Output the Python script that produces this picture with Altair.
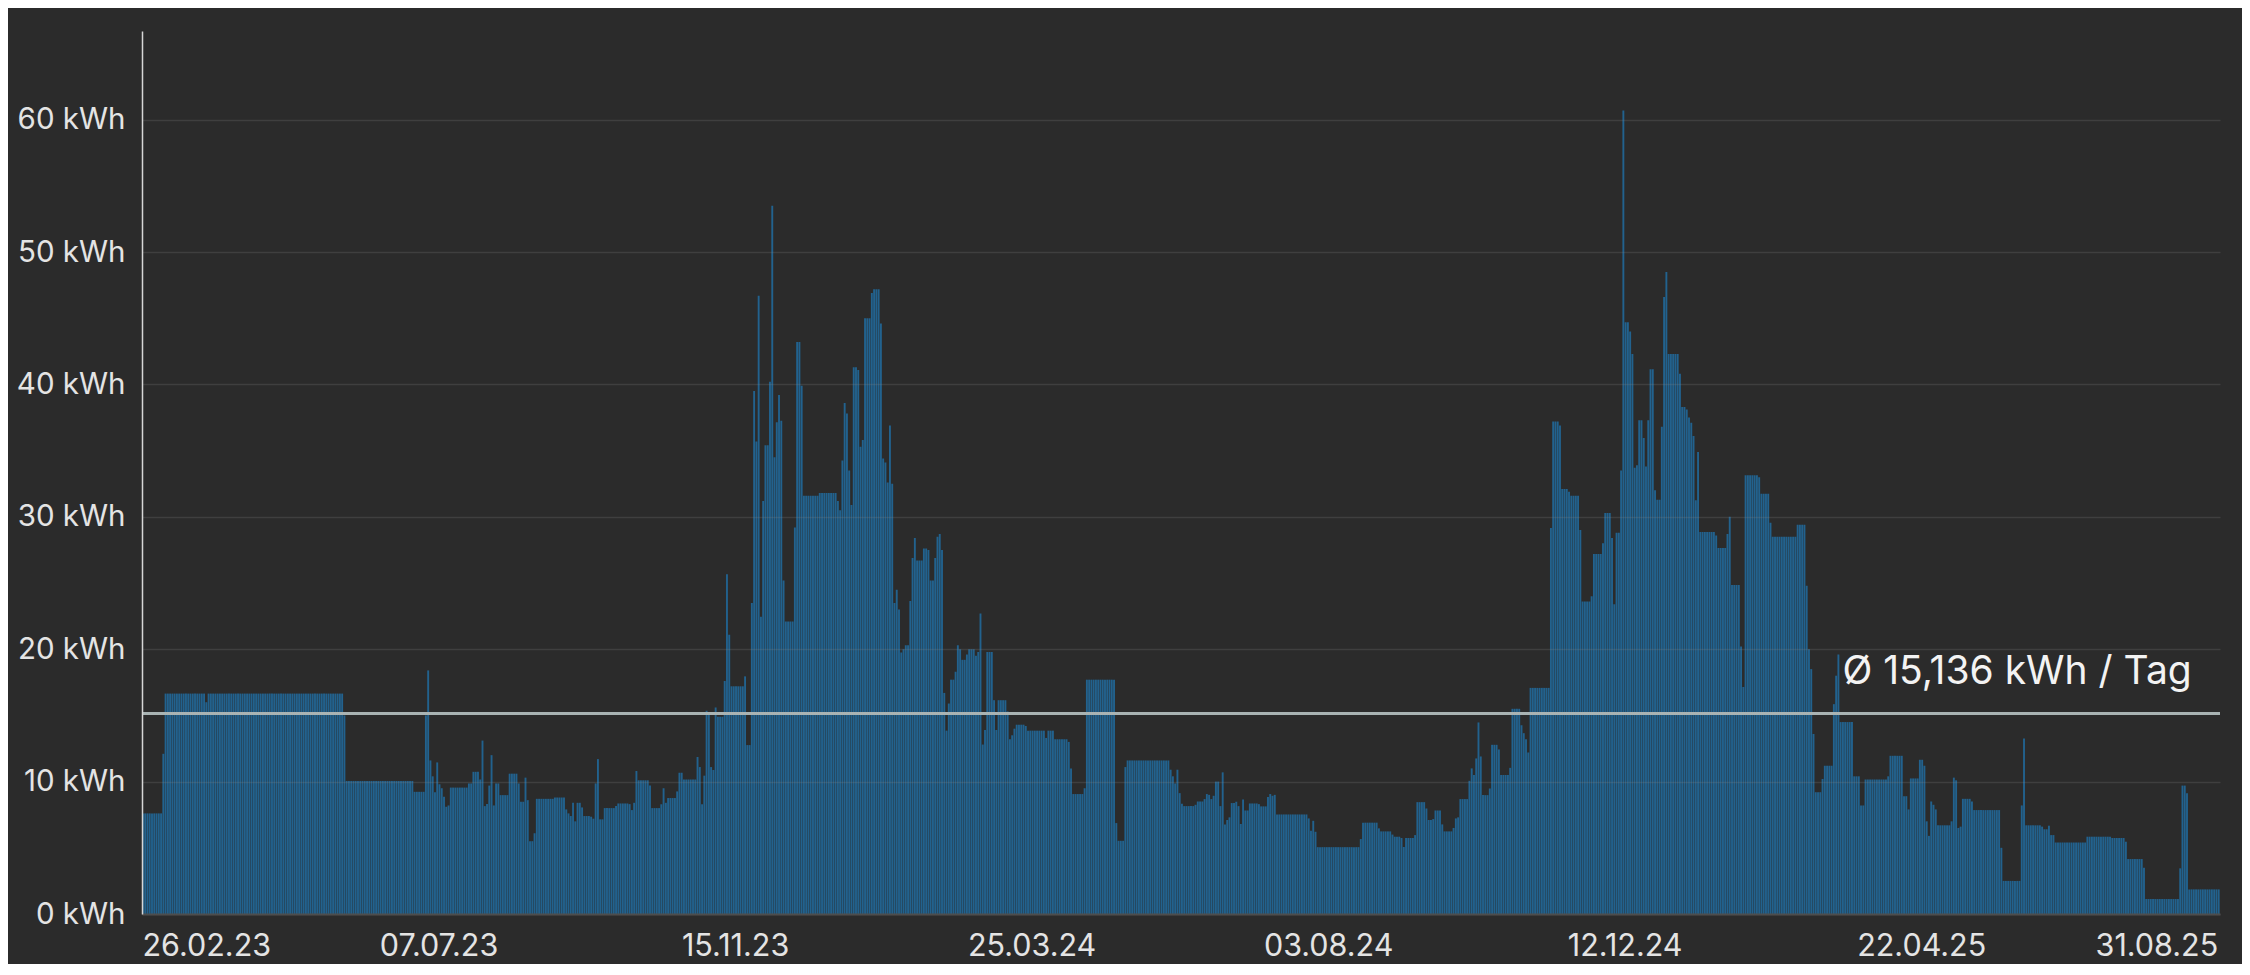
import altair as alt
import numpy as np
import pandas as pd

# ---- data (daily consumption, run-length encoded) ----
start_date = "2023-02-26"

run_values = [
    7.6, 12.1, 16.65, 16.0, 16.65, 15.0, 10.05, 9.23, 15.0, 18.4,
    11.6, 10.4, 9.2, 11.45, 9.8, 9.5, 8.85, 8.1, 8.2, 9.55,
    9.86, 10.74, 10.16, 13.1, 8.15, 8.3, 9.7, 12.0, 8.2, 9.86,
    8.98, 10.6, 9.86, 8.48, 10.3, 8.6, 5.5, 6.1, 8.7, 8.8,
    7.9, 7.6, 7.4, 8.4, 7.0, 8.4, 8.05, 7.4, 7.35, 7.2,
    9.86, 11.7, 7.15, 8.0, 8.15, 8.35, 8.3, 7.85, 8.4, 10.8,
    10.1, 9.7, 8.0, 8.29, 9.5, 8.4, 8.76, 9.26, 10.67, 10.16,
    11.86, 11.1, 8.29, 10.45, 15.35, 15.24, 11.1, 10.88, 15.6, 14.9,
    17.6, 25.66, 21.1, 17.2, 17.95, 12.76, 23.5, 39.5, 35.7, 46.7,
    22.45, 31.2, 35.4, 40.2, 53.5, 34.5, 37.15, 39.2, 37.26, 25.2,
    22.1, 29.2, 43.2, 39.9, 31.6, 31.8, 31.2, 30.5, 34.25, 38.6,
    37.8, 33.5, 30.9, 41.3, 41.1, 35.3, 35.8, 45.0, 46.9, 47.2,
    44.6, 34.4, 34.1, 32.6, 36.9, 32.5, 23.5, 24.5, 23.0, 19.75,
    20.0, 20.3, 23.65, 26.9, 28.4, 26.7, 27.6, 27.5, 25.2, 26.9,
    28.5, 28.7, 27.5, 16.7, 13.85, 15.9, 17.7, 18.3, 20.3, 20.0,
    19.2, 19.6, 20.0, 19.5, 19.8, 22.7, 12.8, 13.9, 19.8, 16.15,
    13.9, 16.15, 15.3, 13.2, 13.5, 14.0, 14.3, 14.2, 13.85, 13.3,
    13.85, 13.2, 13.0, 11.0, 9.06, 9.5, 17.7, 6.87, 5.53, 11.1,
    11.6, 10.9, 10.4, 9.86, 10.9, 9.13, 8.33, 8.15, 8.25, 8.5,
    8.68, 9.06, 9.0, 8.68, 8.93, 10.0, 8.15, 10.7, 6.77, 7.1,
    7.3, 8.38, 8.48, 8.15, 6.8, 8.65, 7.82, 8.35, 8.3, 8.13,
    8.83, 9.06, 8.93, 9.0, 7.52, 7.22, 6.29, 7.04, 6.21, 5.05,
    5.66, 6.9, 6.47, 6.24, 6.0, 5.84, 5.74, 5.06, 5.74, 5.96,
    8.45, 7.97, 7.1, 7.17, 7.82, 6.77, 6.24, 6.5, 7.22, 7.3,
    8.68, 10.06, 11.0, 10.5, 11.75, 14.47, 11.9, 8.98, 9.48, 12.78,
    12.43, 10.5, 11.04, 15.5, 14.26, 13.66, 13.2, 12.2, 17.08, 29.15,
    37.2, 36.9, 32.1, 31.9, 31.6, 29.0, 23.6, 24.0, 27.2, 28.0,
    30.3, 28.4, 23.4, 28.8, 33.5, 60.7, 44.7, 44.0, 42.3, 33.7,
    33.9, 37.3, 35.95, 33.8, 37.3, 41.15, 32.0, 31.3, 36.8, 46.6,
    48.5, 42.3, 40.8, 38.3, 38.1, 37.5, 37.1, 36.1, 31.25, 34.9,
    28.85, 28.6, 27.65, 28.7, 30.0, 24.85, 20.2, 17.15, 33.15, 33.0,
    31.75, 29.55, 28.5, 29.4, 24.8, 20.0, 18.5, 13.6, 9.2, 10.2,
    11.2, 15.85, 18.0, 19.6, 14.5, 10.4, 8.2, 10.16, 10.4, 11.95,
    8.9, 7.9, 10.24, 11.65, 11.2, 7.0, 5.9, 8.5, 8.25, 7.9,
    6.7, 7.0, 10.3, 10.1, 6.5, 6.6, 8.7, 8.5, 7.85, 5.0,
    2.5, 8.2, 13.25, 6.7, 6.6, 6.4, 6.67, 5.96, 5.4, 5.84,
    5.74, 5.46, 4.15, 3.5, 1.13, 3.45, 9.7, 9.13, 1.86,
]

run_lengths = [
    9, 1, 18, 1, 60, 1, 30, 5, 1, 1,
    1, 1, 1, 1, 1, 1, 1, 1, 1, 8,
    2, 3, 1, 1, 1, 1, 1, 1, 1, 2,
    4, 4, 1, 2, 1, 1, 2, 1, 8, 5,
    1, 1, 1, 1, 1, 2, 1, 3, 1, 1,
    1, 1, 2, 5, 1, 5, 1, 1, 1, 1,
    5, 1, 4, 1, 1, 1, 4, 1, 2, 6,
    1, 1, 1, 1, 1, 1, 1, 1, 1, 3,
    1, 1, 1, 6, 1, 2, 1, 1, 1, 1,
    1, 1, 2, 1, 1, 1, 1, 1, 1, 1,
    4, 1, 2, 1, 7, 8, 1, 1, 1, 1,
    1, 1, 1, 2, 1, 1, 1, 3, 1, 3,
    1, 1, 1, 1, 1, 1, 1, 1, 1, 1,
    1, 2, 1, 1, 1, 3, 2, 1, 2, 1,
    1, 1, 1, 1, 1, 1, 2, 1, 1, 1,
    2, 1, 3, 1, 1, 1, 1, 1, 3, 1,
    1, 4, 1, 1, 1, 1, 4, 1, 8, 1,
    3, 6, 1, 1, 5, 1, 13, 1, 3, 1,
    19, 1, 1, 1, 1, 1, 1, 5, 1, 3,
    1, 1, 1, 1, 1, 2, 1, 1, 1, 1,
    1, 2, 1, 1, 1, 1, 2, 4, 1, 3,
    1, 1, 1, 1, 14, 1, 1, 1, 1, 19,
    1, 7, 1, 5, 1, 3, 1, 1, 4, 1,
    4, 1, 2, 1, 3, 1, 4, 1, 1, 1,
    4, 1, 1, 1, 1, 1, 1, 3, 1, 3,
    1, 4, 1, 4, 1, 1, 1, 1, 9, 1,
    3, 1, 3, 1, 4, 1, 4, 1, 4, 1,
    3, 1, 1, 2, 1, 1, 2, 1, 1, 1,
    1, 2, 1, 1, 1, 2, 1, 2, 1, 1,
    1, 5, 1, 2, 1, 1, 1, 1, 1, 1,
    7, 1, 4, 1, 1, 4, 1, 1, 6, 1,
    4, 1, 11, 4, 1, 1, 1, 1, 3, 1,
    4, 1, 1, 1, 6, 3, 2, 10, 1, 6,
    2, 1, 4, 2, 1, 1, 1, 1, 1, 1,
    6, 1, 1, 1, 1, 1, 4, 1, 12, 1,
    8, 1, 1, 7, 1, 2, 1, 2, 14, 11,
    6, 1, 7, 1, 15, 1, 2, 1, 14,
]

tick_dates = ["2023-02-26", "2023-07-07", "2023-11-15", "2024-03-25",
              "2024-08-03", "2024-12-12", "2025-04-22", "2025-08-31"]
y_ticks = [0, 10, 20, 30, 40, 50, 60]
y_max = 66.7
avg_value = 15.136
avg_label = "Ø 15,136 kWh / Tag"

# ---- table ----
values = np.repeat(run_values, run_lengths)
dates = pd.date_range(start_date, periods=len(values), freq="D")
df = pd.DataFrame({"date": dates, "kwh": values})


def dt(ts):
    ts = pd.Timestamp(ts)
    return alt.DateTime(year=ts.year, month=ts.month, date=ts.day)


x_domain = [dt(dates[0]), dt(dates[-1] + pd.Timedelta(days=1))]
x_ticks = [dt(d) for d in tick_dates]

FONT = "Inter"
LABEL_COLOR = "#e4e4e4"

x_scale = alt.Scale(domain=x_domain)
y_scale = alt.Scale(domain=[0, y_max], nice=False, zero=True)

x_axis = alt.Axis(
    values=x_ticks, format="%d.%m.%y", labelFlush=6, labelOverlap=False,
    ticks=False, tickSize=0, grid=False, domain=True, domainColor="#4d4d4d",
    domainWidth=2, labelPadding=17.5, labelFontSize=30.5, labelFont=FONT,
    labelColor=LABEL_COLOR, title=None, zindex=1,
)
y_axis = alt.Axis(
    values=y_ticks, labelExpr="datum.value + ' kWh'", ticks=False, tickSize=0,
    grid=True, gridColor="#8a8a8a", gridOpacity=0.22, gridWidth=1.5,
    domain=True, domainColor="#d6d6d6", domainWidth=1.5, labelPadding=17,
    labelFontSize=29.5, labelFont=FONT, labelColor=LABEL_COLOR, title=None,
    zindex=1,
)

bars = (
    alt.Chart(df)
    .transform_calculate(end="time(datum.date) + 0.84 * 86400000")
    .mark_bar(color="#1f77b4", opacity=0.72)
    .encode(
        x=alt.X("date:T", scale=x_scale, axis=x_axis),
        x2="end:T",
        y=alt.Y("kwh:Q", scale=y_scale, axis=y_axis),
        y2=alt.datum(0),
    )
)

avg_df = pd.DataFrame({"date": [dates[-1]], "avg": [avg_value], "label": [avg_label]})

avg_rule = (
    alt.Chart(avg_df)
    .mark_rule(color="#a9b3b3", strokeWidth=3)
    .encode(y=alt.Y("avg:Q", scale=y_scale, axis=y_axis))
)

avg_text = (
    alt.Chart(avg_df)
    .mark_text(align="right", baseline="alphabetic", dx=-26, dy=-30,
               fontSize=39, font=FONT, color="#f3f3f3")
    .encode(
        x=alt.X("date:T", scale=x_scale, axis=x_axis),
        y=alt.Y("avg:Q", scale=y_scale, axis=y_axis),
        text="label:N",
    )
)

chart = (
    alt.layer(bars, avg_rule, avg_text)
    .properties(
        width=2078, height=883,
        padding={"left": 134, "top": 23, "right": 22, "bottom": 50},
        autosize=alt.AutoSizeParams(type="none"),
        background="#2b2b2b",
    )
    .configure_view(strokeWidth=0)
)

chart.save("out.html", embed_options={"renderer": "svg", "actions": False})
